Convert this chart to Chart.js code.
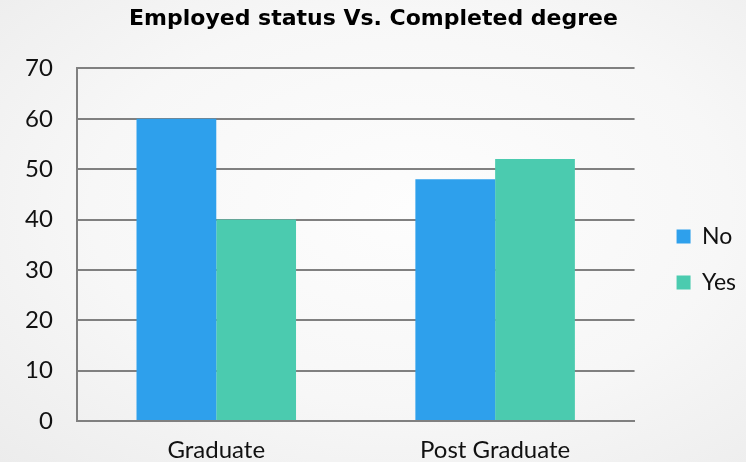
<!DOCTYPE html>
<html>
<head>
<meta charset="utf-8">
<script src="https://cdn.jsdelivr.net/npm/chart.js@4"></script>
<style>
  html, body { margin: 0; padding: 0; }
  body {
    width: 746px; height: 462px; overflow: hidden;
    background: radial-gradient(ellipse at 55% 45%, #fdfdfd 0%, #f7f7f7 55%, #ececec 100%);
  }
  #wrap { position: relative; width: 746px; height: 462px; }
</style>
</head>
<body>
<div id="wrap"><canvas id="chart"></canvas></div>
<script>
const categories = ['Graduate', 'Post Graduate'];
const noValues = [60, 48];
const yesValues = [40, 52];
const seriesNames = ['No', 'Yes'];

const FONT = 'Lato, "DejaVu Sans", sans-serif';

const ctx = document.getElementById('chart').getContext('2d');
new Chart(ctx, {
    type: 'bar',
    data: {
        labels: categories,
        datasets: [
            { label: seriesNames[0], data: noValues, backgroundColor: '#2ea0ec' },
            { label: seriesNames[1], data: yesValues, backgroundColor: '#4bcbaf' }
        ]
    },
    options: {
        responsive: true,
        maintainAspectRatio: false,
        animation: false,
        layout: { padding: { left: 1, right: 0, top: 0, bottom: 0 } },
        datasets: { bar: { barPercentage: 1, categoryPercentage: 0.572 } },
        plugins: {
            title: {
                display: true,
                text: 'Employed status Vs. Completed degree',
                color: '#000',
                font: { family: '"DejaVu Sans", sans-serif', size: 22, weight: 'bold' },
                padding: { top: 6, bottom: 36 }
            },
            legend: {
                position: 'right',
                // empty legend title just pushes the items down a bit
                title: { display: true, text: '', font: { size: 1 }, padding: { top: 0, bottom: 56 } },
                labels: {
                    color: '#111',
                    font: { family: FONT, size: 23 },
                    boxWidth: 14,
                    boxHeight: 14,
                    padding: 23
                }
            },
            tooltip: { enabled: false }
        },
        scales: {
            x: {
                grid: { display: false },
                border: { color: '#808080', width: 2 },
                ticks: { color: '#111', font: { family: FONT, size: 24 }, padding: 7 },
                afterFit: (scale) => { scale.height = 41; }
            },
            y: {
                min: 0,
                max: 70,
                ticks: { stepSize: 10, color: '#111', font: { family: FONT, size: 24 }, padding: 24 },
                grid: { color: '#808080', lineWidth: 2, drawTicks: false },
                border: { color: '#808080', width: 2 }
            },
            // empty right axis, only keeps a gap between the plot and the legend
            gap: {
                position: 'right',
                ticks: { display: false },
                grid: { display: false },
                border: { display: false },
                afterFit: (scale) => { scale.width = 19; }
            }
        }
    }
});
</script>
</body>
</html>
